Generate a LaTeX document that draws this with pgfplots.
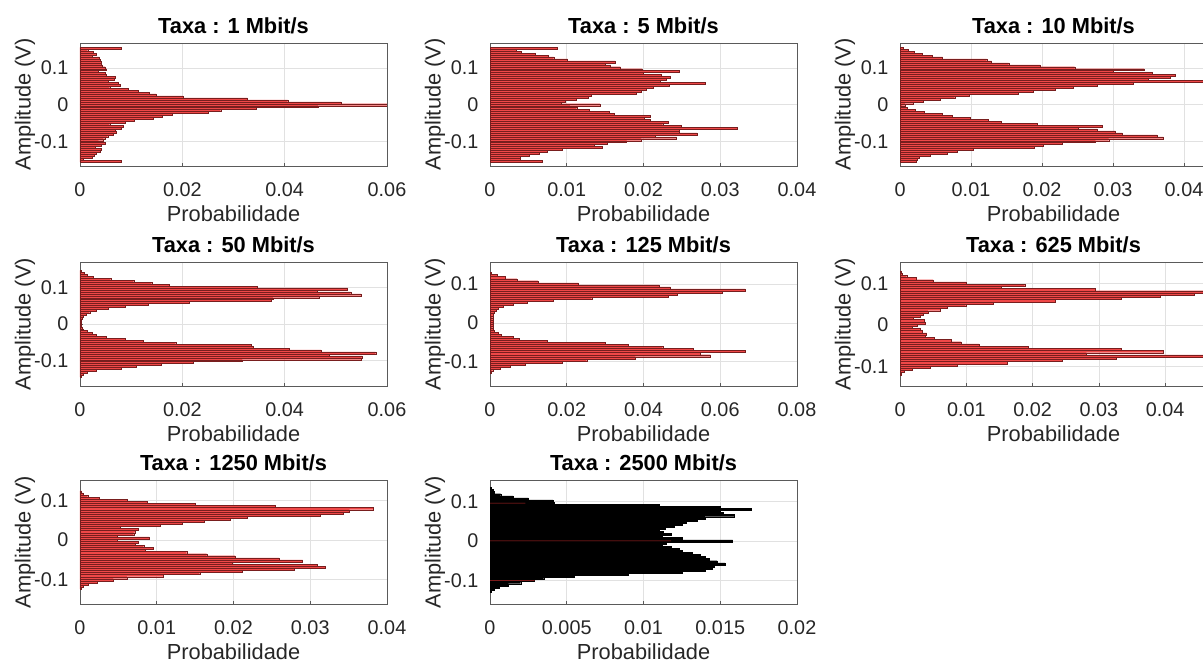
\documentclass[border=0pt]{standalone}
\usepackage{pgfplots}
\pgfplotsset{compat=1.18}
\usepackage{pgfplotstable}
\usepackage{fontspec}
\setmainfont{Liberation Sans}

\definecolor{barred}{RGB}{240,72,72}
\definecolor{baredge}{RGB}{120,30,30}
\definecolor{darkred}{RGB}{190,40,40}
\definecolor{axgray}{RGB}{90,90,90}
\definecolor{gridgray}{RGB}{225,225,225}
\definecolor{txt}{RGB}{38,38,38}

\pgfplotstableread{
y p1 p2 p3 p4 p5 p6 p7 p8
0.1537 0.0080 0.0087 0.0005 0 0 0 0 0
0.1484 0.0015 0.0034 0.0012 0 0 0 0 0
0.1431 0.0026 0.0041 0.0020 0.0002 0 0 0 0
0.1378 0.0032 0.0059 0.0031 0.0008 0 0 0 0
0.1325 0.0023 0.0076 0.0045 0.0014 0 0 0 0.0001
0.1272 0.0037 0.0083 0.0060 0.0025 0.0004 0.0002 0 0.0002
0.1219 0.0039 0.0101 0.0122 0.0060 0.0018 0.0003 0.0002 0.0003
0.1166 0.0041 0.0163 0.0129 0.0105 0.0040 0.0010 0.0004 0.0007
0.1113 0.0042 0.0150 0.0153 0.0140 0.0070 0.0025 0.0010 0.0015
0.1060 0.0044 0.0157 0.0197 0.0175 0.0125 0.0050 0.0025 0.0025
0.1007 0.0049 0.0170 0.0246 0.0347 0.0230 0.0100 0.0061 0.0041
0.0954 0.0052 0.0198 0.0344 0.0523 0.0440 0.0188 0.0087 0.0042
0.0901 0.0036 0.0247 0.0300 0.0464 0.0470 0.0153 0.0150 0.0110
0.0848 0.0050 0.0200 0.0355 0.0529 0.0665 0.0294 0.0254 0.0150
0.0795 0.0052 0.0223 0.0387 0.0549 0.0604 0.0465 0.0382 0.0170
0.0742 0.0068 0.0235 0.0380 0.0468 0.0487 0.0444 0.0351 0.0150
0.0689 0.0067 0.0230 0.0349 0.0377 0.0465 0.0393 0.0343 0.0152
0.0636 0.0055 0.0222 0.0430 0.0373 0.0265 0.0334 0.0313 0.0159
0.0583 0.0075 0.0280 0.0328 0.0214 0.0165 0.0234 0.0218 0.0140
0.0530 0.0078 0.0233 0.0278 0.0133 0.0096 0.0140 0.0196 0.0135
0.0477 0.0058 0.0213 0.0244 0.0088 0.0061 0.0099 0.0162 0.0128
0.0424 0.0095 0.0204 0.0218 0.0055 0.0035 0.0071 0.0133 0.0125
0.0371 0.0114 0.0197 0.0188 0.0032 0.0022 0.0060 0.0104 0.0120
0.0318 0.0136 0.0190 0.0167 0.0019 0.0016 0.0042 0.0052 0.0114
0.0265 0.0149 0.0132 0.0098 0.0012 0.0010 0.0035 0.0076 0.0110
0.0212 0.0201 0.0128 0.0077 0.0006 0.0009 0.0031 0.0072 0.0113
0.0159 0.0327 0.0112 0.0056 0.0004 0.0007 0.0020 0.0070 0.0118
0.0106 0.0406 0.0098 0.0033 0.0003 0.0007 0.0036 0.0049 0.0112
0.0053 0.0510 0.0093 0.0019 0.0003 0.0009 0.0038 0.0090 0.0125
0 0.0600 0.0143 0.0007 0.0002 0.0007 0.0026 0.0049 0.0158
-0.0053 0.0465 0.0104 0.0003 0.0003 0.0009 0.0018 0.0076 0.0115
-0.0106 0.0345 0.0113 0.0010 0.0004 0.0007 0.0030 0.0072 0.0112
-0.0159 0.0275 0.0129 0.0021 0.0006 0.0009 0.0033 0.0083 0.0118
-0.0212 0.0250 0.0155 0.0034 0.0014 0.0012 0.0040 0.0095 0.0123
-0.0265 0.0180 0.0162 0.0060 0.0023 0.0022 0.0038 0.0085 0.0125
-0.0318 0.0160 0.0209 0.0073 0.0032 0.0030 0.0051 0.0139 0.0132
-0.0371 0.0143 0.0201 0.0099 0.0051 0.0060 0.0077 0.0165 0.0137
-0.0424 0.0106 0.0209 0.0124 0.0088 0.0075 0.0092 0.0202 0.0140
-0.0477 0.0088 0.0232 0.0143 0.0123 0.0150 0.0119 0.0259 0.0143
-0.0530 0.0058 0.0225 0.0193 0.0187 0.0300 0.0193 0.0290 0.0148
-0.0583 0.0084 0.0249 0.0285 0.0334 0.0360 0.0334 0.0198 0.0153
-0.0636 0.0081 0.0322 0.0251 0.0338 0.0450 0.0397 0.0309 0.0146
-0.0689 0.0068 0.0247 0.0278 0.0409 0.0530 0.0281 0.0319 0.0145
-0.0742 0.0071 0.0246 0.0303 0.0471 0.0665 0.0465 0.0279 0.0140
-0.0795 0.0065 0.0270 0.0313 0.0578 0.0548 0.0326 0.0211 0.0125
-0.0848 0.0054 0.0215 0.0362 0.0487 0.0574 0.0244 0.0156 0.0090
-0.0901 0.0049 0.0243 0.0371 0.0551 0.0378 0.0162 0.0108 0.0055
-0.0954 0.0045 0.0197 0.0294 0.0550 0.0252 0.0086 0.0061 0.0035
-0.1007 0.0036 0.0178 0.0275 0.0317 0.0187 0.0046 0.0043 0.0029
-0.1060 0.0049 0.0153 0.0228 0.0221 0.0091 0.0018 0.0022 0.0020
-0.1113 0.0042 0.0136 0.0202 0.0159 0.0052 0.0006 0.0011 0.0012
-0.1166 0.0029 0.0146 0.0189 0.0110 0.0026 0.0002 0.0004 0.0006
-0.1219 0.0041 0.0094 0.0103 0.0081 0.0007 0 0.0002 0.0003
-0.1272 0.0040 0.0074 0.0080 0.0031 0.0002 0 0 0.0001
-0.1325 0.0032 0.0064 0.0066 0.0014 0 0 0 0
-0.1378 0.0028 0.0051 0.0042 0.0006 0 0 0 0
-0.1431 0.0023 0.0039 0.0027 0.0003 0 0 0 0
-0.1484 0.0006 0.0039 0.0024 0 0 0 0 0
-0.1537 0.0080 0.0068 0.0023 0 0 0 0 0
}\hist

\pgfplotstableread{
y p
0.0954 0.0023
0 0.0118
-0.1007 0.0029
}\redlines

\pgfplotsset{
  panel/.style={
    scale only axis, width=307pt, anchor=south west,
    axis line style={axgray, line width=0.6pt},
    grid=major, major grid style={gridgray, line width=0.6pt},
    tick align=inside, tick pos=left, major tick length=3pt,
    tick style={axgray, line width=0.6pt},
    scaled ticks=false, xmin=0,
    ytick={-0.1,0,0.1}, yticklabels={-0.1,0,0.1},
    ticklabel style={font=\fontsize{19.8}{22}\selectfont, text=txt},
    xticklabel style={anchor=north, inner sep=0pt, yshift=-16pt},
    yticklabel style={anchor=east, inner sep=0pt, xshift=-11.5pt},
    xlabel={Probabilidade}, ylabel={Amplitude (V)},
    every axis x label/.style={at={(axis description cs:0.5,0)}, anchor=north,
      inner sep=0pt, yshift=-39.5pt, font=\fontsize{21.8}{24}\selectfont, text=txt},
    every axis y label/.style={at={(axis description cs:-0.1612,0.5)}, rotate=90,
      anchor=base, inner sep=0pt, font=\fontsize{21.8}{24}\selectfont, text=txt},
    every axis title/.style={at={(axis description cs:0.5,1)}, anchor=base,
      inner sep=0pt, yshift=9pt, font=\bfseries\fontsize{21.8}{24}\selectfont, text=black},
  },
  redbars/.style={xbar, bar shift=0pt, bar width=0.0053, fill=barred, draw=baredge,
    line width=0.25pt, restrict x to domain=0.000001:1},
}

\begin{document}
\begin{tikzpicture}
% Row 1
\begin{axis}[panel, at={(80pt,497pt)}, height=123pt, xmax=0.06, ymin=-0.167, ymax=0.168,
  xtick={0,0.02,0.04,0.06}, xticklabels={0,0.02,0.04,0.06}, title={Taxa : 1 Mbit/s}]
\addplot[redbars] table[x=p1,y=y]{\hist};
\end{axis}
\begin{axis}[panel, at={(490pt,497pt)}, height=123pt, xmax=0.04, ymin=-0.167, ymax=0.168,
  xtick={0,0.01,0.02,0.03,0.04}, xticklabels={0,0.01,0.02,0.03,0.04}, title={Taxa : 5 Mbit/s}]
\addplot[redbars] table[x=p2,y=y]{\hist};
\end{axis}
\begin{axis}[panel, at={(900pt,497pt)}, height=123pt, xmax=0.04324, ymin=-0.167, ymax=0.168,
  xtick={0,0.01,0.02,0.03,0.04}, xticklabels={0,0.01,0.02,0.03,0.04}, title={Taxa : 10 Mbit/s}]
\addplot[redbars] table[x=p3,y=y]{\hist};
\end{axis}
% Row 2
\begin{axis}[panel, at={(80pt,277pt)}, height=124pt, xmax=0.06, ymin=-0.170, ymax=0.169,
  xtick={0,0.02,0.04,0.06}, xticklabels={0,0.02,0.04,0.06}, title={Taxa : 50 Mbit/s}]
\addplot[redbars] table[x=p4,y=y]{\hist};
\end{axis}
\begin{axis}[panel, at={(490pt,277pt)}, height=124pt, xmax=0.08, ymin=-0.163, ymax=0.157,
  xtick={0,0.02,0.04,0.06,0.08}, xticklabels={0,0.02,0.04,0.06,0.08}, title={Taxa : 125 Mbit/s}]
\addplot[redbars] table[x=p5,y=y]{\hist};
\end{axis}
\begin{axis}[panel, at={(900pt,277pt)}, height=124pt, xmax=0.0463, ymin=-0.146, ymax=0.151,
  xtick={0,0.01,0.02,0.03,0.04}, xticklabels={0,0.01,0.02,0.03,0.04}, title={Taxa : 625 Mbit/s}]
\addplot[redbars] table[x=p6,y=y]{\hist};
\end{axis}
% Row 3
\begin{axis}[panel, at={(80pt,59pt)}, height=124pt, xmax=0.04, ymin=-0.162, ymax=0.152,
  xtick={0,0.01,0.02,0.03,0.04}, xticklabels={0,0.01,0.02,0.03,0.04}, title={Taxa : 1250 Mbit/s}]
\addplot[redbars] table[x=p7,y=y]{\hist};
\end{axis}
\begin{axis}[panel, at={(490pt,59pt)}, height=124pt, xmax=0.02, ymin=-0.160, ymax=0.154,
  xtick={0,0.005,0.01,0.015,0.02}, xticklabels={0,0.005,0.01,0.015,0.02}, title={Taxa : 2500 Mbit/s}]
\addplot[xbar, bar shift=0pt, bar width=0.0053, fill=black, draw=black, line width=0.35pt,
  restrict x to domain=0.000001:1] table[x=p8,y=y]{\hist};
\addplot[xbar, bar shift=0pt, bar width=0.0012, fill=darkred, draw=none] table[x=p,y=y]{\redlines};
\end{axis}
\pgfresetboundingbox
\path[use as bounding box] (0pt,0pt) rectangle (1203pt,663pt);
\end{tikzpicture}
\end{document}
